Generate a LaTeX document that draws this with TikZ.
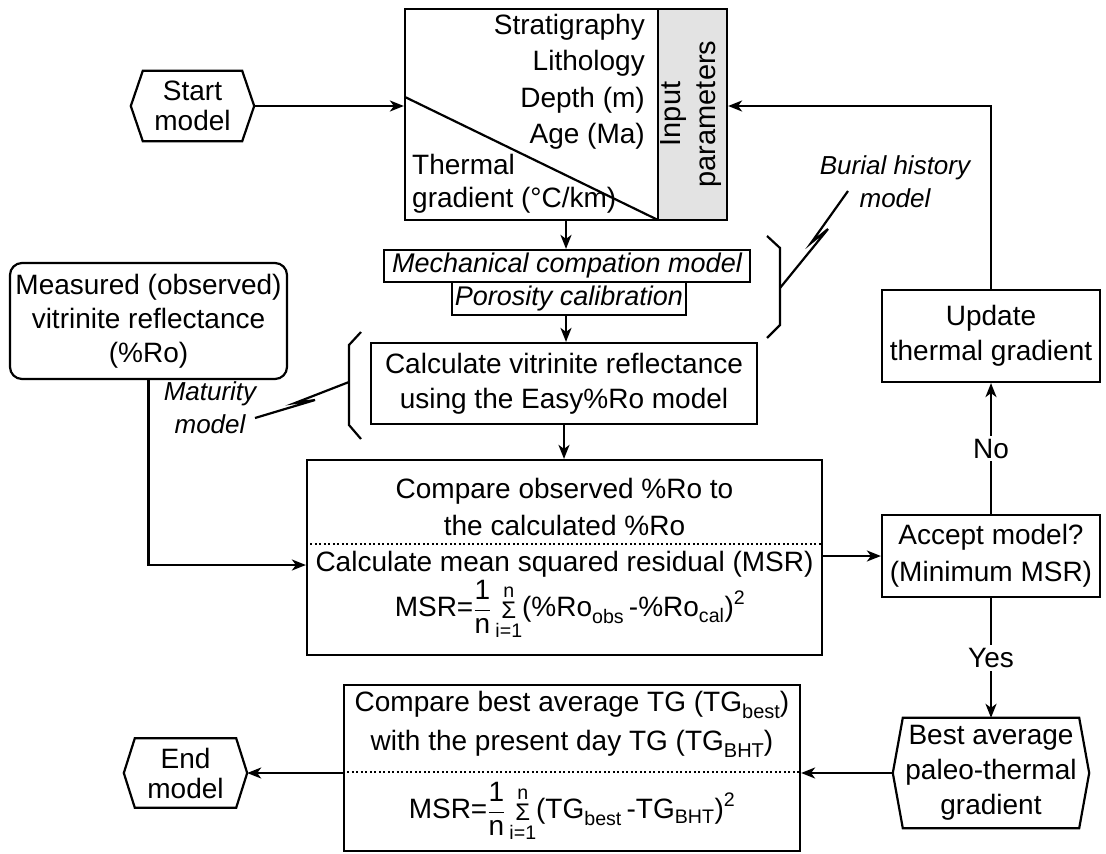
\documentclass[tikz,border=0pt]{standalone}
\usepackage{fontspec}
\setmainfont{Liberation Sans}
\usepackage{amsmath}
\usetikzlibrary{arrows.meta,positioning,calc}
\definecolor{ParamGray}{RGB}{227,227,227}

% hexagon outline round a named node: #1 node, #2 corner cut
\newcommand{\hexframe}[2]{%
  \draw[line width=2.2pt] ([xshift=#2]#1.north west) -- ([xshift=-#2]#1.north east) -- (#1.east)
    -- ([xshift=-#2]#1.south east) -- ([xshift=#2]#1.south west) -- (#1.west) -- cycle;}
\newcommand{\sumin}{\mathop{\vcenter{\hbox{\fontsize{24}{24}\selectfont Σ}}}\limits^{\text{n}}_{\text{i=1}}\!}
\newcommand{\lowsub}[1]{\raisebox{-7pt}{\fontsize{20}{20}\selectfont #1}}

\begin{document}
\begin{tikzpicture}[x=1pt,y=-1pt,
  every node/.style={font=\fontsize{28}{35}\selectfont},
  box/.style={draw,line width=2.2pt,inner sep=0pt,align=center},
  hexa/.style={inner sep=0pt,align=center,font=\fontsize{28}{30}\selectfont},
  note/.style={font=\fontsize{26}{33}\selectfont\itshape,align=center,inner sep=0pt},
  arr/.style={-{Stealth[length=14pt,width=11pt,inset=4pt]},line width=2.2pt},
  bar/.style={line width=2.2pt},
  sep/.style={line width=2pt,dash pattern=on 2pt off 2.5pt},
  lab/.style={fill=white,inner sep=3pt},
]
\useasboundingbox (0,0) rectangle (1106,854);

% input parameters
\fill[ParamGray] (658,9) rectangle (727,220);
\node[box,minimum width=322pt,minimum height=211pt] (inp) at (566,114.5) {};
\draw[bar] (658,9) -- (658,220);
\draw[bar] (405,97) -- (658,220);
\node[anchor=east,align=right,inner sep=0pt,font=\fontsize{28}{36.5}\selectfont] (inplist) at (645,82) {Stratigraphy\\Lithology\\Depth (m)\\Age (Ma)};
\node[anchor=west,align=left,inner sep=0pt,font=\fontsize{28}{33}\selectfont] (tgrad) at (412,184) {Thermal\\gradient (°C/km)};
\node[rotate=90,align=center,inner sep=0pt,font=\fontsize{29}{35}\selectfont] (inplab) at (691,114) {Input\\parameters};

\node[hexa,minimum width=123pt,minimum height=70pt] (start) at (192.5,106) {Start\\model};
\hexframe{start}{12pt}

\node[box,font=\fontsize{27}{30}\selectfont\itshape,minimum width=366pt,minimum height=32pt] (mech) at (567,266) {Mechanical compation model};
\node[box,font=\fontsize{27}{30}\selectfont\itshape,minimum width=234pt,minimum height=33pt] (poro) at (569,298.5) {Porosity calibration};
\node[box,minimum width=386pt,minimum height=81pt] (calc) at (564,383.5) {Calculate vitrinite reflectance\\using the Easy\%Ro model};

\node[box,rounded corners=12pt,font=\fontsize{28}{34}\selectfont,minimum width=277pt,minimum height=116pt] (meas) at (148.5,321) {Measured (observed)\\vitrinite reflectance\\(\%Ro)};

% compare box
\node[box,minimum width=515pt,minimum height=195pt] (cmp) at (564.5,557.5) {};
\draw[sep] (cmp.west |- 0,544) -- (cmp.east |- 0,544);
\node[align=center,inner sep=0pt,font=\fontsize{28}{37}\selectfont] (cmptxt) at (564.5,507) {Compare observed \%Ro to\\the calculated \%Ro};
\node[inner sep=0pt] (msrtxt) at (564.5,564) {Calculate mean squared residual (MSR)};
\node[inner sep=0pt] (msrfrm) at (570,610) {$\text{MSR=}\dfrac{\text{1}}{\text{n}}\sumin\text{(\%Ro}_{\text{obs}}\text{\,-\%Ro}_{\text{cal}}\text{)}^{\text{2}}$};

\node[box,font=\fontsize{28}{37}\selectfont,minimum width=218pt,minimum height=82pt] (acc) at (991,556) {Accept model?\\(Minimum MSR)};
\node[box,minimum width=218pt,minimum height=92pt] (upd) at (991,336) {Update\\thermal gradient};
\node[hexa,font=\fontsize{28}{35}\selectfont,minimum width=196pt,minimum height=110pt] (best) at (991,773) {Best average\\paleo-thermal\\gradient};
\hexframe{best}{10pt}

% final comparison
\node[box,minimum width=456pt,minimum height=166pt] (bot) at (572,768) {};
\draw[sep] (bot.west |- 0,772) -- (bot.east |- 0,772);
\node[inner sep=0pt] (cmpbest) at (572,705) {Compare best average TG (TG\lowsub{best})};
\node[inner sep=0pt] (cmpbht) at (572,744) {with the present day TG (TG\lowsub{BHT})};
\node[inner sep=0pt] (botfrm) at (572,812) {$\text{MSR=}\dfrac{\text{1}}{\text{n}}\sumin\text{(TG}_{\text{best}}\text{\,-TG}_{\text{BHT}}\text{)}^{\text{2}}$};

\node[hexa,minimum width=123pt,minimum height=69pt] (endm) at (185.5,773) {End\\model};
\hexframe{endm}{11pt}

% brackets and model notes
\draw[bar] (767,236) -- (780,248) -- (780,325) -- (767,338);
\draw[bar] (780,288) -- (828,229) -- (811,243) -- (848,191);
\node[note] (burial) at (895,182) {Burial history\\model};
\draw[bar] (361,332) -- (349,345) -- (349,425) -- (361,439);
\draw[bar] (349,382) -- (295,403) -- (315,400) -- (255,418);
\node[note] (matur) at (210,408) {Maturity\\model};

% connectors
\draw[arr] (start.east) -- (start.east -| inp.west);
\draw[arr] (inp.south) -- (inp.south |- mech.north);
\draw[arr] (poro.south -| inp.south) -- (inp.south |- calc.north);
\draw[arr] (calc.south) -- (calc.south |- cmp.north);
\draw[arr] (meas.south) |- ([yshift=-7.5pt]cmp.west);
\draw[arr] (cmp.east |- acc.west) -- (acc.west);
\draw[arr] (acc.north) -- (upd.south) node[midway,lab] {No};
\draw[arr] (upd.north) |- (start.east -| inp.east);
\draw[arr] (acc.south) -- (best.north) node[midway,lab] {Yes};
\draw[arr] (best.west) -- (best.west -| bot.east);
\draw[arr] (bot.west |- endm.east) -- (endm.east);
\end{tikzpicture}
\end{document}
